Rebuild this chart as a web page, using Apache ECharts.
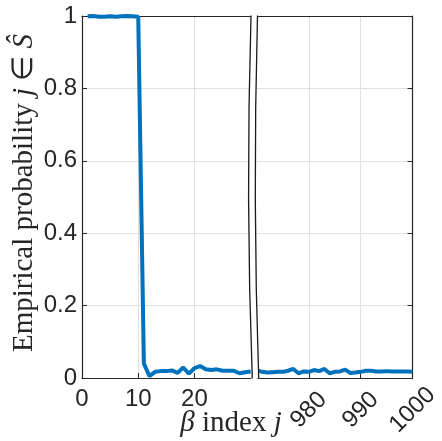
<!DOCTYPE html>
<html><head><meta charset="utf-8">
<script src="https://cdn.jsdelivr.net/npm/echarts@6/dist/echarts.min.js"></script>
<style>html,body{margin:0;padding:0;background:#fff}#c{width:442px;height:441px}</style>
</head><body><div id="c"></div>
<script>
// ---- data ----
const leftJ = [1,2,3,4,5,6,7,8,9,10,11,12,13,14,15,16,17,18,19,20,21,22,23,24,25,26,27,28,29,30];
const leftP = [0.999,1.0,0.998,0.998,0.999,0.998,0.999,1.0,0.999,0.998,
               0.04,0.005,0.017,0.019,0.019,0.021,0.014,0.029,0.012,0.027,
               0.033,0.024,0.022,0.024,0.020,0.020,0.020,0.013,0.016,0.018];
const rightJ = [970,971,972,973,974,975,976,977,978,979,980,981,982,983,984,985,986,987,988,989,990,991,992,993,994,995,996,997,998,999,1000];
const rightP = [0.021,0.017,0.015,0.016,0.017,0.017,0.020,0.025,0.013,0.018,
                0.017,0.022,0.019,0.025,0.013,0.017,0.018,0.023,0.014,0.015,
                0.017,0.020,0.020,0.018,0.018,0.019,0.018,0.018,0.018,0.018,0.017];
const xTicksLeft = [0, 10, 20];
const xTicksRight = [980, 990, 1000];
const yTicks = ['0', '0.2', '0.4', '0.6', '0.8', '1'];

const AX = '#262626', GRID = '#e0e0e0', BLUE = '#0072BD';
const SANS = '"Liberation Sans", Arial, Helvetica, sans-serif';
const SERIF = '"Liberation Serif", "Times New Roman", serif';
const TSIZE = 29;

function yFmt(v){ const i = Math.round(v / 0.2); return (i >= 0 && i < yTicks.length) ? yTicks[i] : ''; }
function xFmt(list){ return function(v){ return list.indexOf(Math.round(v)) >= 0 ? String(Math.round(v)) : ''; }; }

const G1 = {left: 82, top: 16, width: 168.7, height: 362};
const G2 = {left: 257, top: 16, width: 168.7, height: 362};

// axis-break decoration (two curved lines)
const B1 = {x1: 251, y1: 15.5, cpx1: 245.5, cpy1: 200, x2: 252.3, y2: 378.5};
const B2 = {x1: 257.5, y1: 15.5, cpx1: 252.5, cpy1: 200, x2: 258.7, y2: 378.5};
function quadPts(b){ const p=[]; for(let k=0;k<=40;k++){ const t=k/40, u=1-t;
  p.push([u*u*b.x1+2*u*t*b.cpx1+t*t*b.x2, u*u*b.y1+2*u*t*b.cpy1+t*t*b.y2]); } return p; }
const gapPoly = quadPts(B1).concat(quadPts(B2).reverse());

const option = {
  backgroundColor: '#fff',
  animation: false,
  grid: [G1, G2],
  xAxis: [
    {gridIndex: 0, type: 'value', min: 0, max: 30, interval: 10, position: 'bottom',
     axisLine: {show: true, onZero: false, lineStyle: {color: AX, width: 1.2}},
     axisTick: {show: true, inside: true, length: 5, lineStyle: {color: AX}},
     axisLabel: {formatter: xFmt(xTicksLeft), color: AX, fontFamily: SANS, fontSize: 24, margin: 9, showMaxLabel: false},
     splitLine: {show: true, showMinLine: false, showMaxLine: false, lineStyle: {color: GRID, width: 1}}},
    {gridIndex: 0, type: 'value', min: 0, max: 30, interval: 10, position: 'top',
     axisLine: {show: true, onZero: false, lineStyle: {color: AX, width: 1.2}},
     axisTick: {show: false}, axisLabel: {show: false}, splitLine: {show: false}},
    {gridIndex: 1, type: 'value', min: 970, max: 1000, interval: 10, position: 'bottom',
     axisLine: {show: true, onZero: false, lineStyle: {color: AX, width: 1.2}},
     axisTick: {show: true, inside: true, length: 5, lineStyle: {color: AX}},
     axisLabel: {formatter: xFmt(xTicksRight), color: AX, fontFamily: SANS, fontSize: 24,
                 rotate: 45, align: 'center', verticalAlign: 'middle', margin: 32, showMinLabel: false},
     splitLine: {show: true, showMinLine: false, showMaxLine: false, lineStyle: {color: GRID, width: 1}}},
    {gridIndex: 1, type: 'value', min: 970, max: 1000, interval: 10, position: 'top',
     axisLine: {show: true, onZero: false, lineStyle: {color: AX, width: 1.2}},
     axisTick: {show: false}, axisLabel: {show: false}, splitLine: {show: false}}
  ],
  yAxis: [
    {gridIndex: 0, type: 'value', min: 0, max: 1, interval: 0.2, position: 'left',
     axisLine: {show: true, onZero: false, lineStyle: {color: AX, width: 1.2}},
     axisTick: {show: true, inside: true, length: 5, lineStyle: {color: AX}},
     axisLabel: {formatter: yFmt, color: AX, fontFamily: SANS, fontSize: 24, margin: 5},
     splitLine: {show: true, showMinLine: false, showMaxLine: false, lineStyle: {color: GRID, width: 1}}},
    {gridIndex: 1, type: 'value', min: 0, max: 1, interval: 0.2, position: 'left',
     axisLine: {show: false}, axisTick: {show: false}, axisLabel: {show: false},
     splitLine: {show: true, showMinLine: false, showMaxLine: false, lineStyle: {color: GRID, width: 1}}},
    {gridIndex: 1, type: 'value', min: 0, max: 1, interval: 0.2, position: 'right',
     axisLine: {show: true, onZero: false, lineStyle: {color: AX, width: 1.2}},
     axisTick: {show: true, inside: true, length: 5, lineStyle: {color: AX}},
     axisLabel: {show: false}, splitLine: {show: false}}
  ],
  series: [
    {type: 'line', xAxisIndex: 0, yAxisIndex: 0, showSymbol: false, symbol: 'none', clip: true,
     lineStyle: {color: BLUE, width: 4}, data: leftJ.map((j, i) => [j, leftP[i]]), z: 5},
    {type: 'line', xAxisIndex: 2, yAxisIndex: 1, showSymbol: false, symbol: 'none', clip: true,
     lineStyle: {color: BLUE, width: 4}, data: rightJ.map((j, i) => [j, rightP[i]]), z: 5}
  ],
  graphic: [
    {type: 'polygon', z: 100, shape: {points: gapPoly}, style: {fill: '#fff', stroke: null}},
    {type: 'bezierCurve', z: 101, shape: B1, style: {fill: null, stroke: '#1a1a1a', lineWidth: 1.3}},
    {type: 'bezierCurve', z: 101, shape: B2, style: {fill: null, stroke: '#1a1a1a', lineWidth: 1.3}},
    {type: 'text', z: 102, x: 231, y: 423,
     style: {text: '{i|β} index {i|j}', align: 'center', verticalAlign: 'middle',
             fill: AX, font: TSIZE + 'px ' + SERIF,
             rich: {i: {fontStyle: 'italic', fontFamily: SERIF, fontSize: TSIZE, fill: AX}}}},
    {type: 'text', z: 102, x: 24, y: 193, rotation: Math.PI / 2,
     style: {text: 'Empirical probability {i|j} ∈ {i|Ŝ}', align: 'center', verticalAlign: 'middle',
             fill: AX, font: TSIZE + 'px ' + SERIF,
             rich: {i: {fontStyle: 'italic', fontFamily: SERIF, fontSize: TSIZE, fill: AX}}}}
  ]
};
const chart = echarts.init(document.getElementById('c'), null, {renderer: 'canvas'});
chart.setOption(option);
</script></body></html>
